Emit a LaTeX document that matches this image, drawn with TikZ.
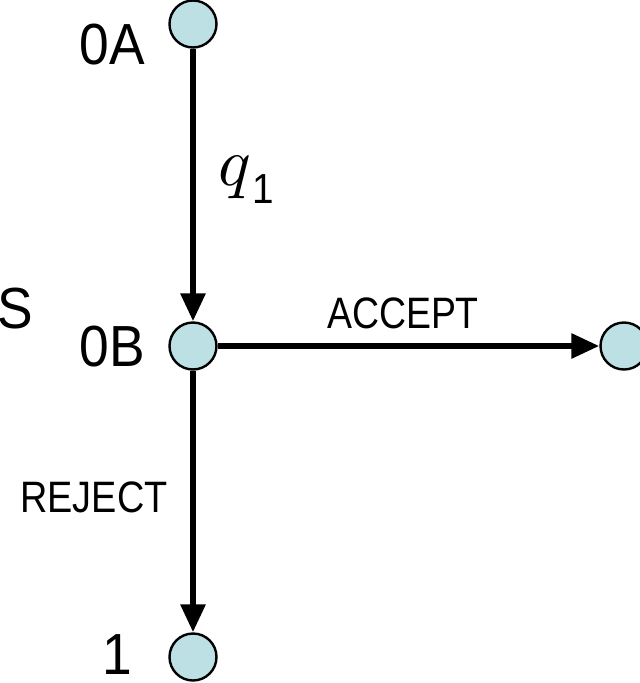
\documentclass[tikz,border=0pt]{standalone}
\usepackage{fontspec}
\setmainfont{Liberation Sans}
\usetikzlibrary{arrows.meta}
\definecolor{statefill}{RGB}{188,224,228}
\tikzset{
  state/.style={circle, draw=black, line width=2.4pt, fill=statefill,
    minimum size=47pt, inner sep=0pt},
  flow/.style={line width=6pt, -{Triangle[length=28pt,width=24pt]}},
  biglabel/.style={font=\fontsize{58}{60}\selectfont, inner sep=0pt},
  edgelabel/.style={font=\fontsize{44}{46}\selectfont, inner sep=0pt}
}
\begin{document}
\begin{tikzpicture}[x=1pt,y=1pt]
  \useasboundingbox (0,0) rectangle (640,-683);
  % states
  \node[state] (a) at (193,-24) {};
  \node[state] (b) at (193,-346) {};
  \node[state] (r) at (624,-346) {};
  \node[state] (e) at (193,-657) {};
  % transitions
  \draw[flow] (a) -- (b);
  \draw[flow] (b) -- (r);
  \draw[flow] (b) -- (e);
  % state names
  \node[biglabel] (la) at (112,-45) {\scalebox{0.92}[1]{0A}};
  \node[biglabel] (lb) at (112,-347) {\scalebox{0.92}[1]{0B}};
  \node[biglabel] (le) at (117,-655) {\scalebox{0.92}[1]{1}};
  \node[biglabel] (ls) at (15,-309) {\scalebox{0.92}[1]{S}};
  % edge labels
  \node[inner sep=0pt] (q) at (246,-180) {\scalebox{6.8}{$q$}\hspace{1pt}\raisebox{-18pt}{\fontsize{42}{44}\selectfont\scalebox{0.92}[1]{1}}};
  \node[edgelabel] (acc) at (403,-313) {\scalebox{0.85}[1]{ACCEPT}};
  \node[edgelabel] (rej) at (94,-497) {\scalebox{0.86}[1]{REJECT}};
\end{tikzpicture}
\end{document}
